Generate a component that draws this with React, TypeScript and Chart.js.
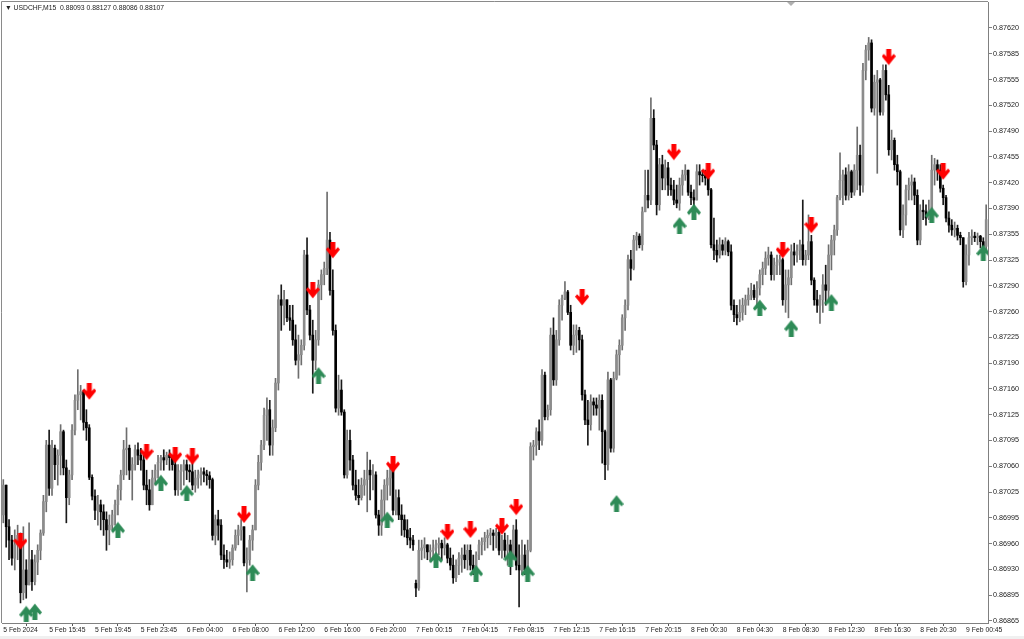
import React, { useEffect, useRef } from 'react';
import { Chart, registerables } from 'chart.js';

Chart.register(...registerables);

// ---- data (prices in points: 87038 = 0.87038) ----
const symbolHeader = '\u25BC USDCHF,M15  0.88093 0.88127 0.88086 0.88107';

const xLabels = [
  '5 Feb 2024', '5 Feb 15:45', '5 Feb 19:45', '5 Feb 23:45', '6 Feb 04:00', '6 Feb 08:00',
  '6 Feb 12:00', '6 Feb 16:00', '6 Feb 20:00', '7 Feb 00:15', '7 Feb 04:15', '7 Feb 08:15',
  '7 Feb 12:15', '7 Feb 16:15', '7 Feb 20:15', '8 Feb 00:30', '8 Feb 04:30', '8 Feb 08:30',
  '8 Feb 12:30', '8 Feb 16:30', '8 Feb 20:30', '9 Feb 00:45',
];
const barsPerLabel = 16;

const yLabels = [
  '0.87620', '0.87585', '0.87555', '0.87520', '0.87490', '0.87455', '0.87420', '0.87390',
  '0.87355', '0.87325', '0.87290', '0.87260', '0.87225', '0.87190', '0.87160', '0.87125',
  '0.87095', '0.87060', '0.87025', '0.86995', '0.86960', '0.86930', '0.86895', '0.86865',
];
const yLabelTop = 87620;
const yLabelBottom = 86865;

const firstOpen = 87000;
const openGaps: Record<number, number> = { 144: 86913 };

const closes = [
  87038, 86985, 86968, 86945, 86962, 86974, 86901, 86930, 86911, 86943,
  86915, 86940, 86955, 86977, 87017, 87089, 87034, 87085, 87064, 87076,
  87106, 87060, 87022, 87051, 87108, 87146, 87153, 87157, 87118, 87111,
  87048, 87024, 87006, 87013, 87004, 86994, 86981, 86987, 87000, 87013,
  87032, 87051, 87083, 87085, 87057, 87064, 87083, 87076, 87070, 87038,
  87032, 87013, 87047, 87057, 87067, 87073, 87070, 87076, 87073, 87064,
  87032, 87055, 87057, 87064, 87057, 87055, 87038, 87047, 87051, 87055,
  87052, 87050, 87045, 86974, 86994, 86987, 86949, 86943, 86940, 86943,
  86958, 86974, 86981, 86985, 86939, 86943, 86968, 86981, 87038, 87067,
  87089, 87127, 87134, 87089, 87111, 87168, 87274, 87267, 87274, 87251,
  87248, 87223, 87197, 87204, 87216, 87331, 87261, 87229, 87197, 87223,
  87293, 87306, 87314, 87350, 87286, 87235, 87136, 87159, 87131, 87051,
  87095, 87070, 87038, 87025, 87022, 87038, 87045, 87057, 87051, 87051,
  87000, 86987, 87019, 87038, 87047, 87057, 87006, 87022, 87000, 86994,
  86981, 86971, 86968, 86962, 86907, 86955, 86958, 86962, 86953, 86955,
  86958, 86962, 86964, 86958, 86962, 86945, 86936, 86920, 86936, 86945,
  86949, 86943, 86955, 86936, 86930, 86949, 86962, 86966, 86971, 86974,
  86977, 86974, 86978, 86955, 86968, 86955, 86962, 86943, 86981, 86936,
  86930, 86949, 86930, 86955, 87087, 87089, 87106, 87095, 87178, 87125,
  87134, 87229, 87172, 87223, 87267, 87276, 87284, 87258, 87216, 87229,
  87235, 87223, 87153, 87121, 87115, 87144, 87140, 87136, 87146, 87106,
  87064, 87172, 87085, 87174, 87204, 87216, 87251, 87267, 87325, 87314,
  87350, 87355, 87344, 87386, 87407, 87401, 87505, 87471, 87395, 87446,
  87429, 87442, 87420, 87414, 87401, 87397, 87420, 87433, 87439, 87411,
  87404, 87401, 87437, 87433, 87432, 87429, 87414, 87344, 87337, 87331,
  87344, 87337, 87348, 87335, 87267, 87255, 87251, 87258, 87267, 87274,
  87280, 87286, 87277, 87289, 87306, 87314, 87327, 87331, 87306, 87318,
  87322, 87325, 87274, 87293, 87302, 87335, 87331, 87337, 87344, 87325,
  87331, 87348, 87299, 87274, 87267, 87274, 87293, 87286, 87331, 87350,
  87363, 87404, 87426, 87433, 87407, 87437, 87411, 87439, 87458, 87420,
  87566, 87592, 87601, 87518, 87551, 87554, 87513, 87566, 87535, 87465,
  87477, 87446, 87437, 87363, 87382, 87414, 87420, 87424, 87407, 87350,
  87388, 87386, 87378, 87388, 87439, 87446, 87439, 87416, 87404, 87378,
  87369, 87363, 87365, 87356, 87353, 87297, 87331, 87353, 87355, 87353,
  87355, 87348, 87342, 87376,
];

const highs = [
  87045, 87032, 86994, 86974, 86981, 86987, 86977, 86985, 86943, 86990,
  86955, 86949, 86962, 86981, 87025, 87095, 87108, 87095, 87089, 87083,
  87115, 87108, 87070, 87057, 87115, 87153, 87185, 87165, 87159, 87134,
  87115, 87051, 87032, 87025, 87019, 87013, 87004, 87000, 87006, 87019,
  87038, 87057, 87095, 87111, 87089, 87073, 87089, 87092, 87085, 87076,
  87057, 87045, 87057, 87064, 87076, 87076, 87083, 87080, 87083, 87076,
  87070, 87064, 87064, 87070, 87070, 87064, 87067, 87057, 87057, 87060,
  87060, 87057, 87055, 87047, 87000, 87006, 86994, 86962, 86955, 86953,
  86962, 86981, 86987, 86994, 86985, 86958, 86974, 86987, 87045, 87076,
  87095, 87136, 87149, 87146, 87121, 87174, 87280, 87293, 87286, 87274,
  87267, 87267, 87242, 87229, 87223, 87337, 87353, 87267, 87248, 87235,
  87299, 87312, 87322, 87411, 87360, 87312, 87242, 87178, 87172, 87134,
  87108, 87108, 87076, 87057, 87045, 87047, 87057, 87080, 87070, 87064,
  87055, 87006, 87032, 87045, 87057, 87064, 87060, 87032, 87032, 87013,
  87000, 86994, 86983, 86974, 86917, 86968, 86968, 86971, 86962, 86962,
  86968, 86968, 86971, 86968, 86971, 86964, 86958, 86949, 86943, 86952,
  86958, 86962, 86962, 86962, 86949, 86953, 86968, 86971, 86978, 86981,
  86983, 86981, 86983, 86981, 86974, 86977, 86974, 86968, 86987, 86994,
  86962, 86968, 86962, 86968, 87092, 87095, 87111, 87121, 87185, 87182,
  87140, 87238, 87251, 87235, 87274, 87280, 87297, 87286, 87267, 87242,
  87242, 87239, 87229, 87159, 87146, 87153, 87149, 87149, 87153, 87153,
  87108, 87182, 87174, 87182, 87210, 87223, 87255, 87274, 87331, 87337,
  87356, 87360, 87358, 87392, 87439, 87439, 87531, 87516, 87477, 87454,
  87458, 87452, 87449, 87429, 87426, 87420, 87429, 87439, 87446, 87439,
  87420, 87414, 87446, 87446, 87439, 87439, 87437, 87416, 87378, 87350,
  87353, 87350, 87353, 87350, 87344, 87274, 87267, 87274, 87276, 87280,
  87289, 87295, 87293, 87297, 87312, 87322, 87335, 87341, 87335, 87327,
  87331, 87331, 87327, 87312, 87312, 87344, 87346, 87344, 87350, 87401,
  87337, 87382, 87356, 87302, 87286, 87280, 87306, 87318, 87344, 87356,
  87369, 87407, 87461, 87439, 87442, 87446, 87439, 87446, 87494, 87471,
  87575, 87598, 87608, 87605, 87560, 87566, 87556, 87573, 87573, 87547,
  87490, 87480, 87458, 87439, 87395, 87420, 87429, 87433, 87429, 87414,
  87395, 87401, 87395, 87401, 87458, 87454, 87452, 87446, 87420, 87407,
  87386, 87376, 87373, 87369, 87360, 87353, 87344, 87360, 87363, 87360,
  87359, 87356, 87353, 87395,
];

const lows = [
  86990, 86959, 86943, 86936, 86930, 86943, 86888, 86892, 86894, 86917,
  86904, 86911, 86924, 86943, 86974, 87004, 87025, 87025, 87045, 87038,
  87051, 87051, 86990, 87013, 87045, 87102, 87134, 87121, 87108, 87095,
  87045, 87019, 86994, 86987, 86981, 86974, 86955, 86962, 86981, 86987,
  87000, 87019, 87045, 87051, 87045, 87019, 87057, 87064, 87057, 87032,
  87013, 87006, 87013, 87038, 87047, 87057, 87057, 87064, 87057, 87057,
  87025, 87025, 87032, 87038, 87045, 87042, 87032, 87029, 87034, 87038,
  87042, 87038, 87034, 86968, 86962, 86968, 86943, 86932, 86934, 86932,
  86936, 86955, 86962, 86968, 86935, 86902, 86936, 86955, 86981, 87032,
  87057, 87083, 87095, 87076, 87076, 87106, 87159, 87235, 87242, 87246,
  87235, 87216, 87191, 87174, 87191, 87210, 87255, 87223, 87155, 87185,
  87216, 87274, 87293, 87306, 87280, 87229, 87131, 87127, 87127, 87047,
  87047, 87057, 87032, 87019, 87013, 87019, 87025, 87004, 87019, 87032,
  86996, 86974, 86974, 86994, 87019, 87025, 87000, 87000, 86994, 86974,
  86972, 86962, 86958, 86955, 86896, 86904, 86943, 86945, 86943, 86940,
  86945, 86943, 86949, 86943, 86949, 86939, 86930, 86913, 86915, 86924,
  86927, 86932, 86930, 86930, 86924, 86927, 86943, 86949, 86955, 86958,
  86962, 86955, 86958, 86949, 86945, 86946, 86936, 86924, 86943, 86930,
  86883, 86924, 86924, 86924, 86953, 87070, 87076, 87083, 87089, 87121,
  87121, 87127, 87165, 87165, 87216, 87248, 87274, 87255, 87210, 87204,
  87207, 87210, 87146, 87115, 87089, 87108, 87127, 87127, 87108, 87066,
  87045, 87057, 87080, 87080, 87172, 87178, 87210, 87235, 87261, 87299,
  87312, 87337, 87340, 87337, 87388, 87391, 87395, 87465, 87382, 87388,
  87414, 87414, 87407, 87407, 87395, 87391, 87388, 87407, 87426, 87407,
  87395, 87388, 87401, 87420, 87424, 87420, 87407, 87340, 87325, 87322,
  87327, 87331, 87331, 87330, 87261, 87246, 87242, 87246, 87248, 87255,
  87267, 87274, 87274, 87267, 87280, 87293, 87306, 87318, 87299, 87299,
  87306, 87306, 87267, 87258, 87251, 87293, 87318, 87322, 87325, 87318,
  87318, 87325, 87293, 87267, 87258, 87244, 87258, 87267, 87274, 87312,
  87331, 87356, 87401, 87395, 87401, 87401, 87404, 87407, 87414, 87407,
  87411, 87554, 87579, 87513, 87509, 87435, 87509, 87509, 87528, 87458,
  87452, 87439, 87420, 87356, 87353, 87369, 87401, 87401, 87395, 87344,
  87344, 87376, 87369, 87376, 87388, 87420, 87426, 87411, 87395, 87373,
  87360, 87356, 87354, 87350, 87344, 87290, 87293, 87318, 87344, 87348,
  87344, 87340, 87337, 87337,
];

// signal arrows: bar index + price level
const sellBars = [6, 30, 50, 60, 66, 84, 108, 115, 136, 155, 163, 174, 179, 202, 234, 246, 272, 282, 309, 328];
const sellLevels = [86966, 87157, 87080, 87076, 87074, 87000, 87286, 87337, 87064, 86978, 86981, 86985, 87010, 87277, 87462, 87437, 87337, 87369, 87583, 87437];
const buyBars = [8, 11, 40, 55, 64, 87, 110, 134, 151, 165, 177, 183, 214, 236, 241, 264, 275, 289, 324, 342];
const buyLevels = [86874, 86877, 86981, 87041, 87028, 86927, 87178, 86994, 86943, 86926, 86945, 86926, 87015, 87369, 87386, 87264, 87238, 87271, 87382, 87334];

const P = (v: number) => v / 100000;

function makeArrow(color: string, up: boolean): HTMLCanvasElement {
  const c = document.createElement('canvas');
  c.width = 14;
  c.height = 17;
  const g = c.getContext('2d')!;
  g.fillStyle = color;
  if (up) {
    g.translate(0, 17);
    g.scale(1, -1);
  }
  const pts = [
    [4.5, 0], [9.5, 0], [9.5, 8], [12, 5.3], [14, 7.8], [7, 16.5], [0, 7.8], [2, 5.3], [4.5, 8],
  ];
  g.beginPath();
  pts.forEach(([x, y], i) => (i === 0 ? g.moveTo(x, y) : g.lineTo(x, y)));
  g.closePath();
  g.fill();
  return c;
}

const zeroPadding = (s: any) => {
  s.paddingTop = 0;
  s.paddingBottom = 0;
  s.paddingLeft = 0;
  s.paddingRight = 0;
};

export default function App() {
  const ref = useRef<HTMLCanvasElement>(null);

  useEffect(() => {
    const opens = closes.map((c, i) => (i === 0 ? firstOpen : openGaps[i] ?? closes[i - 1]));
    const hi = highs.map((h, i) => Math.max(h, opens[i], closes[i]));
    const lo = lows.map((l, i) => Math.min(l, opens[i], closes[i]));
    const bull = closes.map((c, i) => c >= opens[i]);

    const wickData = closes.map((_, i) => ({ x: i, y: [P(lo[i]), P(hi[i])] }));
    const bodyData = closes.map((c, i) => ({ x: i, y: [P(opens[i]), P(c)] }));
    const sellData = sellBars.map((b, i) => ({ x: b, y: P(sellLevels[i]) }));
    const buyData = buyBars.map((b, i) => ({ x: b, y: P(buyLevels[i]) }));

    const downArrow = makeArrow('#ff0000', false);
    const upArrow = makeArrow('#2e8b57', true);

    // layout constants
    const pxPerBar = 2.8655;
    const areaLeft = 2;
    const areaWidth = 986;
    const xMin = -(3.3 - areaLeft) / pxPerBar;
    const xMax = xMin + areaWidth / pxPerBar;
    const pxPerPrice = 78543; // pixels per 1.0 price unit
    const yMax = P(yLabelTop) + 26 / pxPerPrice;
    const yMin = yMax - 621 / pxPerPrice;

    const framePlugin = {
      id: 'frame',
      afterDraw(chart: any) {
        const { ctx, chartArea: a } = chart;
        ctx.save();
        ctx.strokeStyle = '#8a8a8a';
        ctx.lineWidth = 1;
        ctx.beginPath();
        ctx.moveTo(a.left - 0.5, a.bottom);
        ctx.lineTo(a.left - 0.5, a.top - 0.5);
        ctx.lineTo(a.right, a.top - 0.5);
        ctx.stroke();
        ctx.fillStyle = '#f0f0f0';
        ctx.fillRect(0, 636, 1024, 3);
        ctx.restore();
      },
    };

    const chart = new Chart(ref.current!, {
      type: 'bar',
      data: {
        datasets: [
          {
            type: 'scatter',
            data: sellData,
            pointStyle: downArrow as any,
            pointRadius: 1,
            clip: 0,
            order: 0,
          } as any,
          {
            type: 'scatter',
            data: buyData,
            pointStyle: upArrow as any,
            pointRadius: 1,
            clip: 0,
            order: 0,
          } as any,
          {
            type: 'bar',
            data: bodyData as any,
            backgroundColor: bull.map((b) => (b ? '#8c8c8c' : '#000000')),
            barThickness: 2,
            minBarLength: 1,
            grouped: false,
            order: 1,
          },
          {
            type: 'bar',
            data: wickData as any,
            backgroundColor: bull.map((b) => (b ? '#6e6e6e' : '#1a1a1a')),
            barThickness: 1,
            grouped: false,
            order: 2,
          },
        ],
      },
      options: {
        animation: false,
        responsive: false,
        maintainAspectRatio: false,
        events: [],
        layout: { autoPadding: false, padding: { left: areaLeft, top: 2, right: 0, bottom: 0 } },
        plugins: {
          legend: { display: false },
          tooltip: { enabled: false },
          title: { display: false },
        },
        scales: {
          x: {
            type: 'linear',
            min: xMin,
            max: xMax,
            offset: false,
            afterBuildTicks: (s: any) => {
              s.ticks = xLabels.map((_, k) => ({ value: k * barsPerLabel }));
            },
            afterFit: (s: any) => {
              s.height = 16;
              zeroPadding(s);
            },
            grid: { drawOnChartArea: false, drawTicks: true, tickLength: 3, color: '#555555' },
            border: { display: true, color: '#808080', width: 1 },
            ticks: {
              autoSkip: false,
              maxRotation: 0,
              minRotation: 0,
              align: 'start',
              padding: 0,
              color: '#222222',
              font: { family: "'Liberation Sans', Arial, sans-serif", size: 6.8 },
              callback: (_v: any, idx: number) => xLabels[idx],
            },
          } as any,
          y: {
            type: 'linear',
            position: 'right',
            min: yMin,
            max: yMax,
            afterBuildTicks: (s: any) => {
              const n = yLabels.length - 1;
              s.ticks = yLabels.map((_, k) => ({
                value: P(yLabelBottom + (k * (yLabelTop - yLabelBottom)) / n),
              }));
            },
            afterFit: (s: any) => {
              s.width = 36;
              zeroPadding(s);
            },
            grid: { drawOnChartArea: false, drawTicks: true, tickLength: 4, color: '#808080' },
            border: { display: true, color: '#808080', width: 1 },
            ticks: {
              padding: 1,
              color: '#222222',
              font: { family: "'Liberation Sans', Arial, sans-serif", size: 7.2 },
              callback: (_v: any, idx: number) => yLabels[yLabels.length - 1 - idx],
            },
          } as any,
        },
      },
      plugins: [framePlugin],
    });
    return () => chart.destroy();
  }, []);

  return (
    <div
      style={{
        position: 'fixed',
        left: 0,
        top: 0,
        width: 1024,
        height: 639,
        background: '#ffffff',
        overflow: 'hidden',
      }}
    >
      <canvas ref={ref} width={1024} height={639} style={{ display: 'block', width: 1024, height: 639 }} />
      <div
        style={{
          position: 'absolute',
          left: 5,
          top: 4,
          font: "6.8px 'Liberation Sans', Arial, sans-serif",
          color: '#222222',
          whiteSpace: 'pre',
        }}
      >
        {symbolHeader}
      </div>
      <div
        style={{
          position: 'absolute',
          left: 787,
          top: 2,
          width: 0,
          height: 0,
          borderLeft: '4px solid transparent',
          borderRight: '4px solid transparent',
          borderTop: '4px solid #b0b0b0',
        }}
      />
    </div>
  );
}
